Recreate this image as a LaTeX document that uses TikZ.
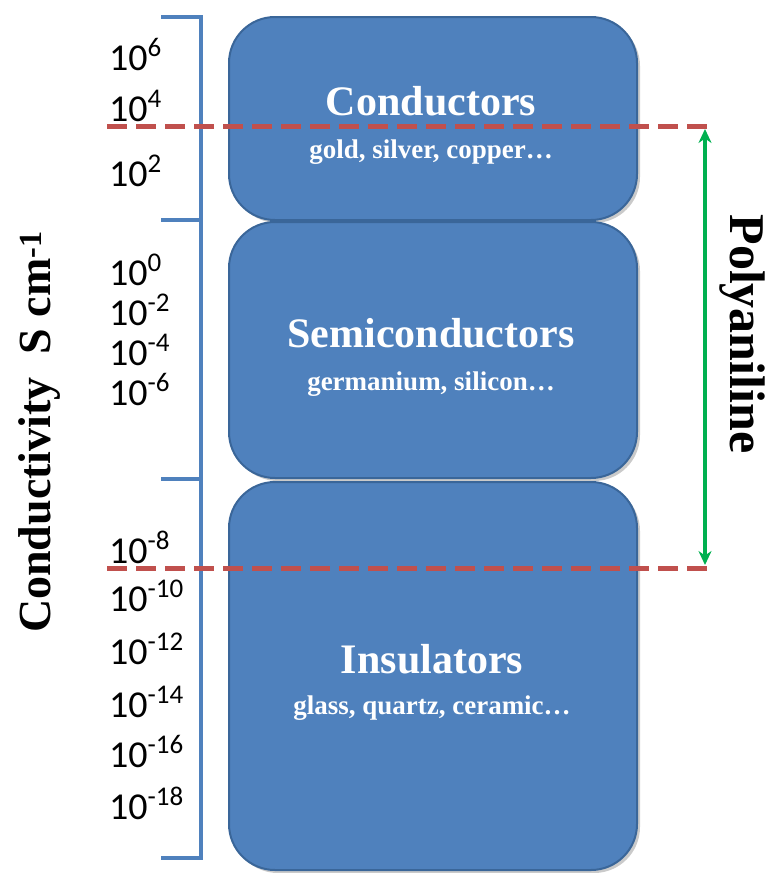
\documentclass[tikz,border=0pt]{standalone}
\usepackage{fontspec}
\setmainfont{Liberation Serif}
\newfontfamily\numfont{Carlito}
\usetikzlibrary{shadows,arrows.meta}
\definecolor{boxblue}{HTML}{4F81BD}
\definecolor{boxedge}{HTML}{3A6699}
\definecolor{dashred}{HTML}{C0504D}
\definecolor{arrgreen}{HTML}{00B050}
\tikzset{
  band/.style={draw=boxedge, line width=2pt, fill=boxblue, rounded corners=46pt,
    minimum width=408pt, inner sep=0pt,
    drop shadow={shadow xshift=3pt, shadow yshift=-3pt, opacity=0.35, fill=black!60}},
  bandtitle/.style={anchor=base, inner sep=0pt, text=white, font=\bfseries\fontsize{42}{42}\selectfont},
  bandsub/.style={anchor=base, inner sep=0pt, text=white, font=\bfseries\fontsize{27}{27}\selectfont},
  bracketline/.style={draw=boxblue, line width=3.2pt},
  boundary/.style={draw=dashred, line width=5pt, dash pattern=on 20pt off 9pt},
  ticklabel/.style={anchor=west, inner sep=0pt, font=\numfont\fontsize{38}{38}\selectfont},
  axislabel/.style={font=\bfseries\fontsize{46}{46}\selectfont, inner sep=0pt},
}
\newcommand{\pw}[1]{10\raisebox{14pt}{\fontsize{27}{27}\selectfont #1}}
\begin{document}
\begin{tikzpicture}[x=1pt,y=-1pt]
\useasboundingbox (0,0) rectangle (768,873);
% bands
\node[band, minimum height=203pt] (cond) at (433,118.5) {};
\node[band, minimum height=256pt] (semi) at (433,350) {};
\node[band, minimum height=388pt] (ins) at (433,676) {};
\node[bandtitle] (condt) at (431,115) {Conductors};
\node[bandsub] (conds) at (431,158) {gold, silver, copper…};
\node[bandtitle] (semit) at (431,347) {Semiconductors};
\node[bandsub] (semis) at (431,390) {germanium, silicon…};
\node[bandtitle] (inst) at (432,673) {Insulators};
\node[bandsub] (inss) at (432,714) {glass, quartz, ceramic…};
% bracket
\coordinate (bt) at (201,17);
\coordinate (bb) at (201,858);
\coordinate (t0) at (161,17);
\coordinate (t1l) at (161,220);
\coordinate (t1r) at (201,220);
\coordinate (t2l) at (161,479);
\coordinate (t2r) at (201,479);
\coordinate (t3) at (161,858);
\draw[bracketline] (t0) -- (bt) -- (bb) -- (t3);
\draw[bracketline] (t1l) -- (t1r);
\draw[bracketline] (t2l) -- (t2r);
% tick labels
\node[ticklabel] (e6) at (109,55) {\pw{6}};
\node[ticklabel] (e4) at (109,106) {\pw{4}};
\node[ticklabel] (e2) at (109,171) {\pw{2}};
\node[ticklabel] (e0) at (109,270) {\pw{0}};
\node[ticklabel] (em2) at (109,310) {\pw{-2}};
\node[ticklabel] (em4) at (109,350) {\pw{-4}};
\node[ticklabel] (em6) at (109,390) {\pw{-6}};
\node[ticklabel] (em8) at (109,547) {\pw{-8}};
\node[ticklabel] (em10) at (109,596) {\pw{-10}};
\node[ticklabel] (em12) at (109,649) {\pw{-12}};
\node[ticklabel] (em14) at (109,702) {\pw{-14}};
\node[ticklabel] (em16) at (109,752) {\pw{-16}};
\node[ticklabel] (em18) at (109,803) {\pw{-18}};
% boundaries
\coordinate (d1l) at (107,126);
\coordinate (d1r) at (712,126);
\coordinate (d2l) at (107,568);
\coordinate (d2r) at (712,568);
\draw[boundary] (d1l) -- (d1r);
\draw[boundary] (d2l) -- (d2r);
% polyaniline range
\coordinate (pa) at (705,129);
\coordinate (pb) at (705,565);
\draw[arrgreen, line width=4pt, {Stealth[length=14pt,width=13pt]}-{Stealth[length=14pt,width=13pt]}] (pa) -- (pb);
\node[axislabel, rotate=-90, font=\bfseries\fontsize{50}{50}\selectfont] (poly) at (742,334) {Polyaniline};
\node[axislabel, rotate=90] (axis) at (40,432) {Conductivity\ \ S cm\textsuperscript{-1}};
\end{tikzpicture}
\end{document}
